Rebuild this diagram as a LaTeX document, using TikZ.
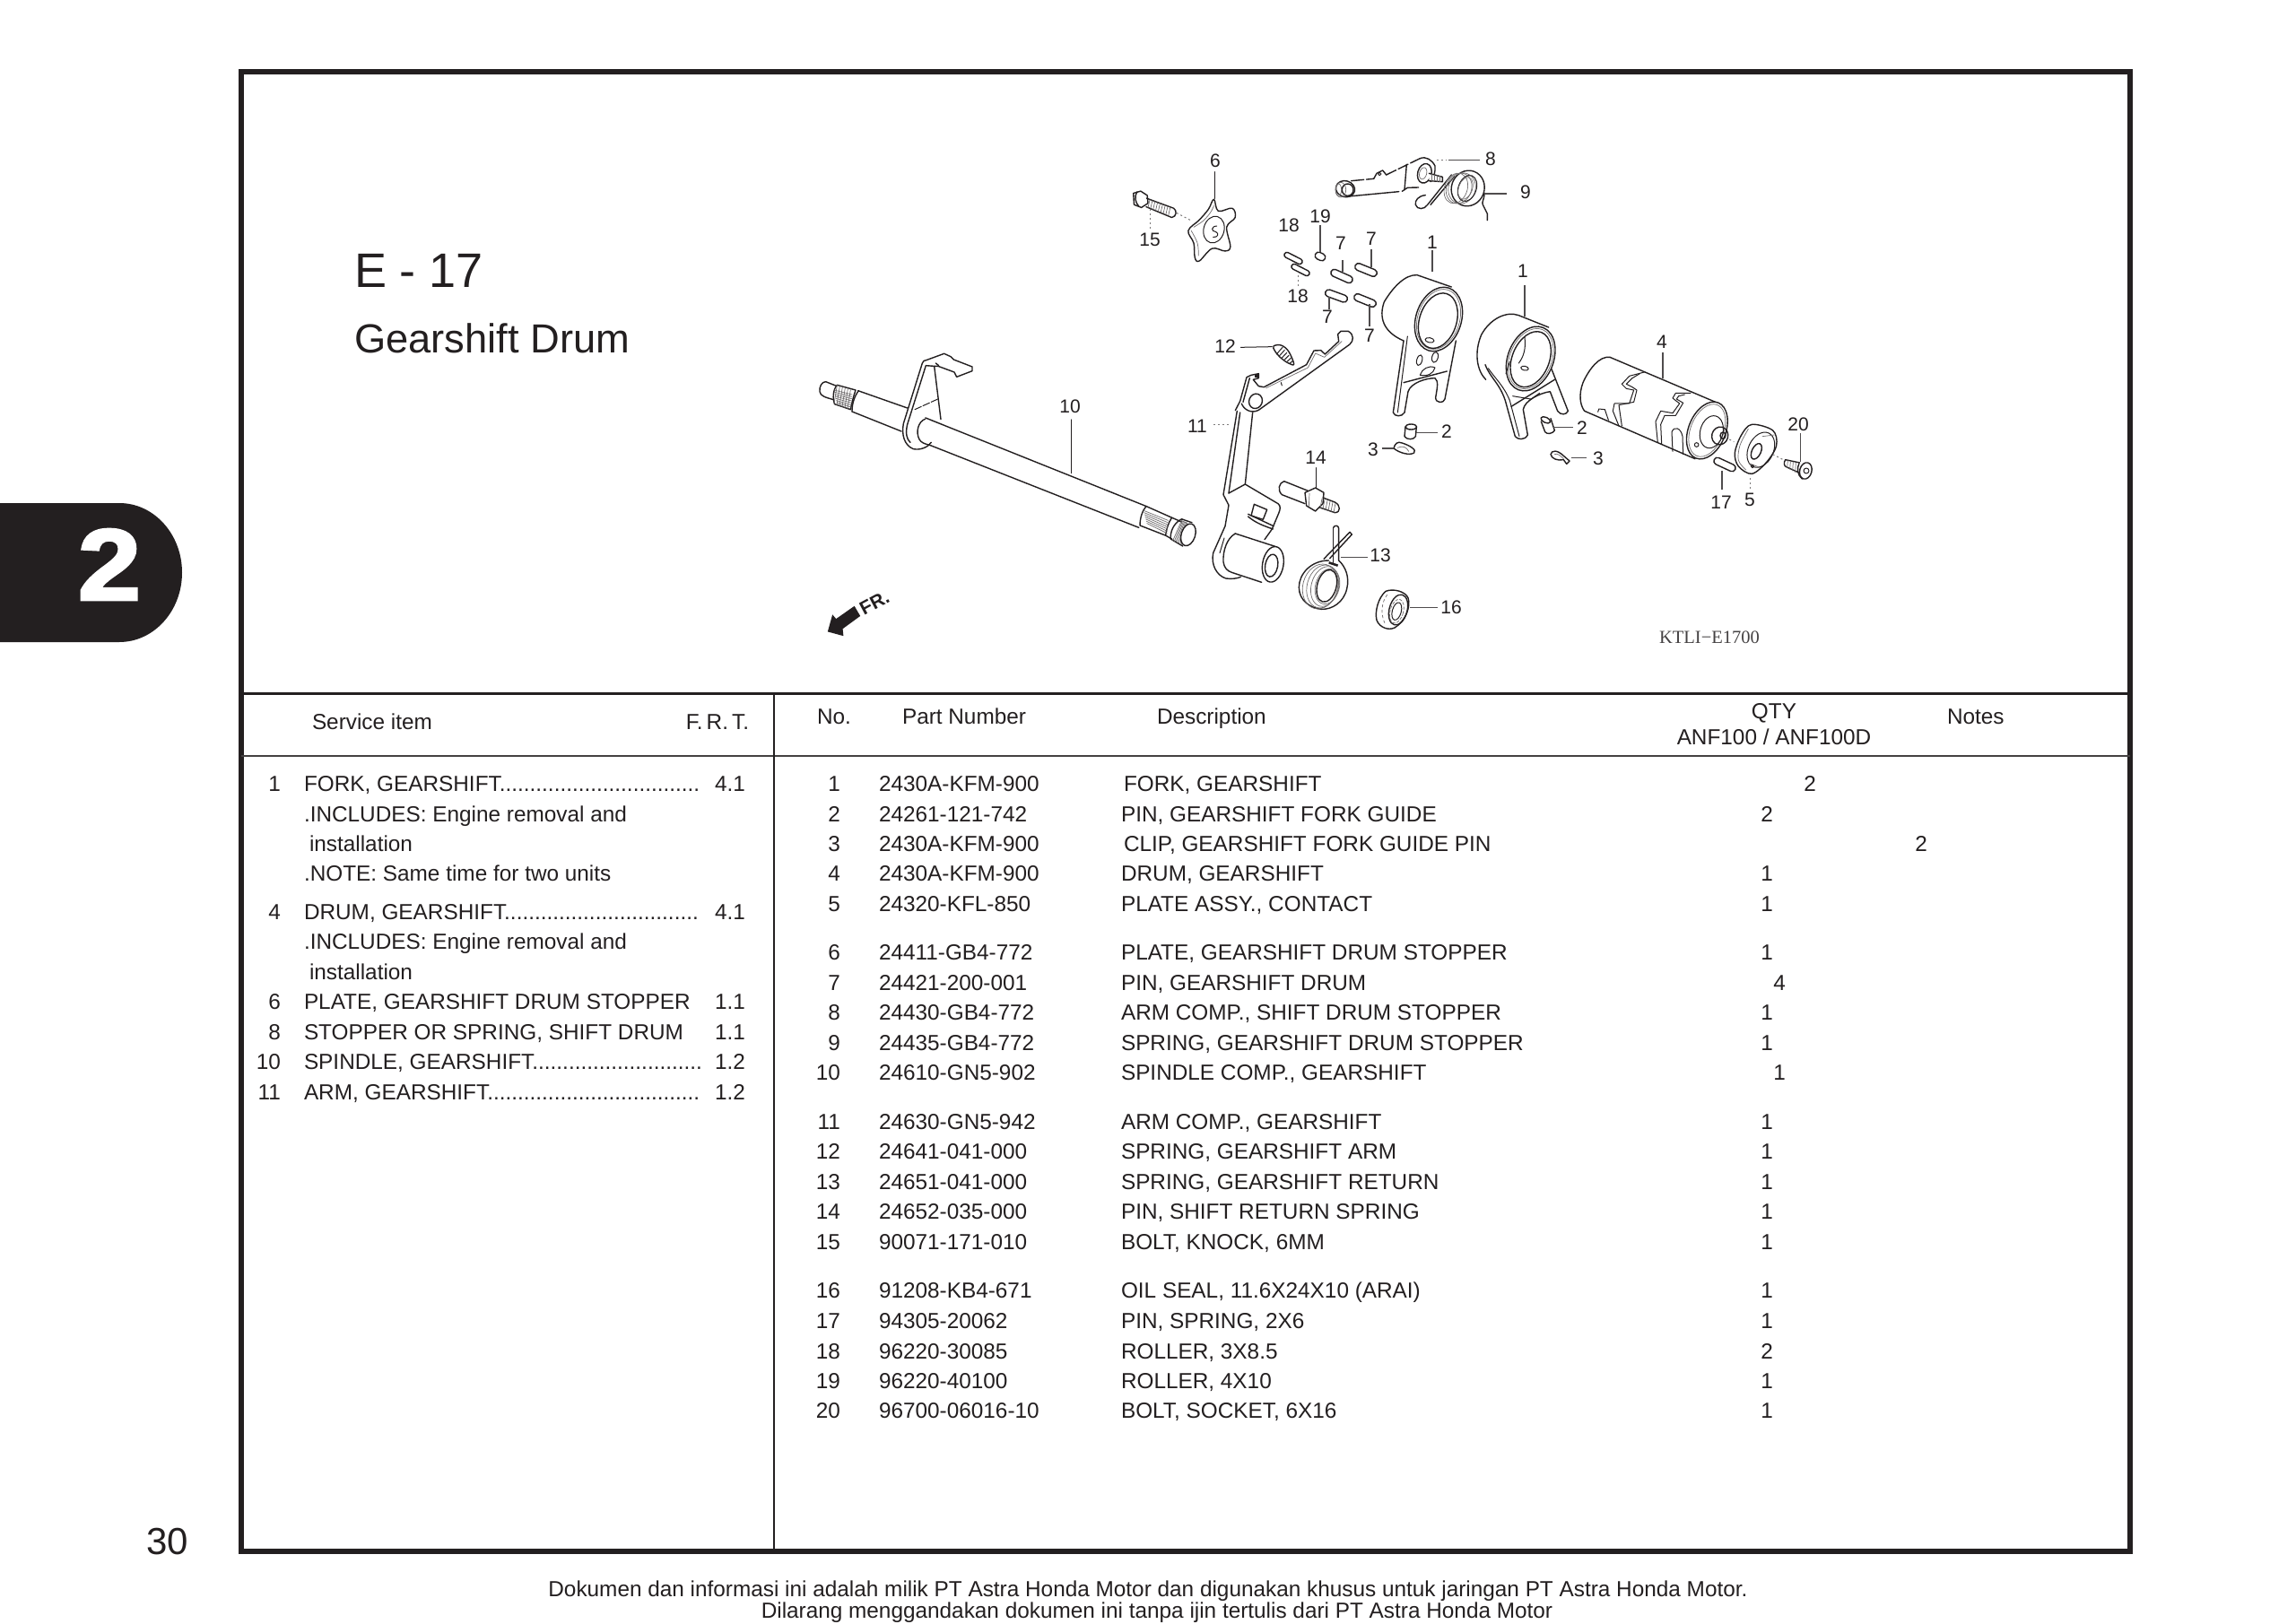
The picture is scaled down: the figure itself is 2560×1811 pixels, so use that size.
\documentclass[tikz,border=0pt]{standalone}
\usepackage{fontspec}
\setmainfont{Liberation Sans}
\newfontfamily\serifkt{Liberation Serif}
\newfontfamily\tabfont[BoldFeatures={FakeBold=2.5}]{Liberation Sans}
\definecolor{inkc}{HTML}{231F20}
\newcounter{tn}
\tikzset{
  txt/.style={inner sep=0pt,outer sep=0pt,text=inkc,font=\fontsize{24.35pt}{24pt}\selectfont},
  plab/.style={inner sep=0pt,outer sep=0pt,text=inkc,font=\fontsize{21pt}{21pt}\selectfont},
  ink/.style={draw=inkc,line width=1.4pt,line join=round,line cap=round},
  fine/.style={draw=inkc,line width=1pt,line join=round,line cap=round},
  hatchl/.style={draw=inkc!65,line width=.7pt,line cap=round},
  lead/.style={draw=inkc!80,line width=1.2pt},
  dots/.style={draw=inkc!60,line width=1pt,dash pattern=on 2pt off 3pt},
  rule/.style={draw=inkc,line cap=butt},
  z5/.style={shift={(1480,160)},x=0.33333pt,y=-0.33333pt},
  z6/.style={shift={(1530,290)},x=0.33333pt,y=-0.33333pt},
  z7/.style={shift={(1750,370)},x=0.33333pt,y=-0.33333pt},
  z8/.style={shift={(1340,360)},x=0.33333pt,y=-0.33333pt},
  z9/.style={shift={(1420,560)},x=0.33333pt,y=-0.33333pt},
  z10/.style={shift={(900,385)},x=0.33333pt,y=-0.33333pt},
  z1/.style={shift={(880,140)},x=0.40816pt,y=-0.39747pt},
}
\newcommand\Tw[3]{\stepcounter{tn}\node[txt,anchor=base west] (t\arabic{tn}) at (#1,#2) {#3};}
\newcommand\Te[3]{\stepcounter{tn}\node[txt,anchor=base east] (t\arabic{tn}) at (#1,#2) {#3};}
\newcommand\Tc[3]{\stepcounter{tn}\node[txt,anchor=base] (t\arabic{tn}) at (#1,#2) {#3};}
\newcommand\Pn[3]{\stepcounter{tn}\node[plab] (t\arabic{tn}) at (#1,#2) {#3};}
\newcommand\Rw[7]{\Te{937}{#1}{#2}\Tw{980}{#1}{#3}\Tw{#4}{#1}{#5}\Tc{#6}{#1}{#7}}
\newcommand\PinC[5]{\draw[ink,fill=white,shift={(#1,#2)},rotate=#5,rounded corners=#4pt] (-#3,-#4) rectangle (#3,#4);}
\begin{document}
\begin{tikzpicture}[x=1pt,y=-1pt]
\useasboundingbox (0,0) rectangle (2560,1811);
\fill[white] (0,0) rectangle (2560,1811);
% tab
\fill[inkc] (0,561) -- (133,561) .. controls (171.7,561) and (203,595.7) .. (203,638.5) .. controls (203,681.3) and (171.7,716) .. (133,716) -- (0,716) -- cycle;
\node[inner sep=0pt,text=white,font=\tabfont\fontsize{113pt}{113pt}\selectfont\bfseries,anchor=base] (tabnum) at (122,669) {\scalebox{1.12}[1]{2}};
% frame
\draw[rule,line width=6pt] (268.5,80) rectangle (2375,1730);
\draw[rule,line width=3pt] (269,773) -- (2375,773);
\draw[rule,line width=2pt,draw=inkc!85] (269,843) -- (2375,843);
\draw[rule,line width=2pt] (863,773) -- (863,1730);
% titles
\node[txt,font=\fontsize{54pt}{54pt}\selectfont,anchor=base west] (title) at (395,320) {E - 17};
\node[txt,font=\fontsize{45.3pt}{45pt}\selectfont,anchor=base west] (subtitle) at (395,393) {Gearshift Drum};
\node[txt,font=\fontsize{42pt}{42pt}\selectfont,anchor=base west] (pageno) at (163,1733) {30};
\Tc{1280}{1780}{Dokumen dan informasi ini adalah milik PT Astra Honda Motor dan digunakan khusus untuk jaringan PT Astra Honda Motor.}
\Tc{1290}{1804}{Dilarang menggandakan dokumen ini tanpa ijin tertulis dari PT Astra Honda Motor}
% left table
\Tw{348}{813}{Service item}
\Te{835}{813}{F.\kern4pt R.\kern4pt T.}
\Te{313}{882}{1}\Tw{339}{882}{FORK, GEARSHIFT.................................}\Te{831}{882}{4.1}
\Tw{339}{916}{.INCLUDES: Engine removal and}
\Tw{345}{949}{installation}
\Tw{339}{982}{.NOTE: Same time for two units}
\Te{313}{1025}{4}\Tw{339}{1025}{DRUM, GEARSHIFT................................}\Te{831}{1025}{4.1}
\Tw{339}{1058}{.INCLUDES: Engine removal and}
\Tw{345}{1092}{installation}
\Te{313}{1125}{6}\Tw{339}{1125}{PLATE, GEARSHIFT DRUM STOPPER}\Te{831}{1125}{1.1}
\Te{313}{1159}{8}\Tw{339}{1159}{STOPPER OR SPRING, SHIFT DRUM}\Te{831}{1159}{1.1}
\Te{313}{1192}{10}\Tw{339}{1192}{SPINDLE, GEARSHIFT............................}\Te{831}{1192}{1.2}
\Te{313}{1226}{11}\Tw{339}{1226}{ARM, GEARSHIFT...................................}\Te{831}{1226}{1.2}
% right table header
\Tw{911}{807}{No.}
\Tw{1006}{807}{Part Number}
\Tw{1290}{807}{Description}
\Tc{1978}{801}{QTY}
\Tc{1978}{830}{ANF100 / ANF100D}
\Tw{2171}{807}{Notes}
% right table rows
\Rw{882}{1}{2430A-KFM-900}{1253}{FORK, GEARSHIFT}{2018}{2}
\Rw{916}{2}{24261-121-742}{1250}{PIN, GEARSHIFT FORK GUIDE}{1970}{2}
\Rw{949}{3}{2430A-KFM-900}{1253}{CLIP, GEARSHIFT FORK GUIDE PIN}{2142}{2}
\Rw{982}{4}{2430A-KFM-900}{1250}{DRUM, GEARSHIFT}{1970}{1}
\Rw{1016}{5}{24320-KFL-850}{1250}{PLATE ASSY., CONTACT}{1970}{1}
\Rw{1070}{6}{24411-GB4-772}{1250}{PLATE, GEARSHIFT DRUM STOPPER}{1970}{1}
\Rw{1104}{7}{24421-200-001}{1250}{PIN, GEARSHIFT DRUM}{1984}{4}
\Rw{1137}{8}{24430-GB4-772}{1250}{ARM COMP., SHIFT DRUM STOPPER}{1970}{1}
\Rw{1171}{9}{24435-GB4-772}{1250}{SPRING, GEARSHIFT DRUM STOPPER}{1970}{1}
\Rw{1204}{10}{24610-GN5-902}{1250}{SPINDLE COMP., GEARSHIFT}{1984}{1}
\Rw{1259}{11}{24630-GN5-942}{1250}{ARM COMP., GEARSHIFT}{1970}{1}
\Rw{1292}{12}{24641-041-000}{1250}{SPRING, GEARSHIFT ARM}{1970}{1}
\Rw{1326}{13}{24651-041-000}{1250}{SPRING, GEARSHIFT RETURN}{1970}{1}
\Rw{1359}{14}{24652-035-000}{1250}{PIN, SHIFT RETURN SPRING}{1970}{1}
\Rw{1393}{15}{90071-171-010}{1250}{BOLT, KNOCK, 6MM}{1970}{1}
\Rw{1447}{16}{91208-KB4-671}{1250}{OIL SEAL, 11.6X24X10 (ARAI)}{1970}{1}
\Rw{1481}{17}{94305-20062}{1250}{PIN, SPRING, 2X6}{1970}{1}
\Rw{1515}{18}{96220-30085}{1250}{ROLLER, 3X8.5}{1970}{2}
\Rw{1548}{19}{96220-40100}{1250}{ROLLER, 4X10}{1970}{1}
\Rw{1581}{20}{96700-06016-10}{1250}{BOLT, SOCKET, 6X16}{1970}{1}
% part labels
\Pn{1355}{179}{6}\Pn{1662}{177}{8}\Pn{1701}{214}{9}\Pn{1282}{267}{15}
\Pn{1437}{251}{18}\Pn{1472}{241}{19}\Pn{1495}{271}{7}\Pn{1529}{266}{7}
\Pn{1447}{330}{18}\Pn{1480}{353}{7}\Pn{1527}{374}{7}
\Pn{1597}{270}{1}\Pn{1698}{302}{1}\Pn{1853}{381}{4}
\Pn{1613}{481}{2}\Pn{1764}{477}{2}\Pn{1531}{501}{3}\Pn{1782}{511}{3}
\Pn{2005}{473}{20}\Pn{1919}{560}{17}\Pn{1951}{557}{5}
\Pn{1366}{386}{12}\Pn{1335}{475}{11}\Pn{1467}{510}{14}\Pn{1539}{619}{13}\Pn{1618}{677}{16}\Pn{1193}{453}{10}
\node[inner sep=0pt,text=inkc!85,font=\serifkt\fontsize{20.5pt}{20pt}\selectfont] (code) at (1906,711) {KTLI−E1700};
\node[inner sep=0pt,text=inkc,rotate=28,font=\fontsize{21pt}{21pt}\selectfont\bfseries] (fr) at (975,672) {FR.};
% FR arrow
\begin{scope}[z1]
\fill[inkc] (105,1420) -- (118,1372) -- (128,1384) -- (178,1348) -- (194,1376) -- (146,1412) -- (148,1432) -- cycle;
\end{scope}
% spindle, left end
\begin{scope}[z10]
\draw[ink] (95,135) -- (62,122) .. controls (48,122) and (40,140) .. (42,155) .. controls (44,170) and (60,174) .. (88,182);
\draw[ink] (100,133) .. controls (85,150) and (85,180) .. (92,197) -- (145,215) .. controls (150,190) and (155,170) .. (162,150) -- cycle;
\foreach \i in {0,...,5}{\draw[hatchl] (100+\i*9,134+\i*3) -- (90+\i*9,196+\i*3.3);}
\foreach \i in {0,...,6}{\draw[hatchl] (90+\i*1.5,150+\i*7) -- (150-\i*.5,165+\i*7);}
\draw[ink] (170,152) -- (335,210);
\draw[ink] (150,222) -- (315,288);
\draw[ink] (172,152) .. controls (155,175) and (150,200) .. (150,222);
% bracket
\draw[ink] (385,60) -- (322,262) .. controls (315,300) and (325,335) .. (355,347) .. controls (380,352) and (405,340) .. (415,325);
\draw[ink] (397,68) -- (335,265) .. controls (328,295) and (333,315) .. (345,325);
\draw[ink] (385,60) .. controls (388,52) and (392,50) .. (398,50) -- (458,28) -- (480,38) -- (490,48) -- (552,72) -- (552,86) -- (500,106) -- (492,90) -- (438,70) -- (425,70) -- (397,68);
\draw[ink] (425,70) -- (447,248);
\draw[ink] (430,60) -- (440,68);
\draw[fine,dash pattern=on 8pt off 2pt] (360,215) -- (437,180);
\end{scope}
% spindle main shaft
\begin{scope}[z1]
\draw[ink] (372,823) .. controls (352,830) and (345,860) .. (355,880) .. controls (360,890) and (370,893) .. (385,897);
\draw[ink] (372,820) -- (975,1068);
\draw[ink] (385,897) -- (955,1128);
% splines
\draw[ink] (975,1068) -- (1045,1100) .. controls (1035,1115) and (1030,1135) .. (1028,1150) -- (958,1122) .. controls (958,1100) and (965,1080) .. (975,1068);
\foreach \i in {0,...,6}{\draw[hatchl] (968+\i*1.5,1080+\i*6) -- (1035-\i*.5,1108+\i*6);}
\draw[ink] (1045,1100) -- (1072,1112);
\draw[ink] (1028,1150) -- (1045,1160);
\draw[ink] (1072,1104) -- (1100,1114);
\draw[ink] (1042,1160) -- (1075,1180);
\draw[ink] (1072,1104) .. controls (1050,1115) and (1040,1140) .. (1042,1160);
\foreach \i in {0,...,6}{\draw[hatchl] (1072+\i*2.5,1108+\i*1) -- (1048+\i*4,1164+\i*2);}
\draw[ink,fill=white] (1090,1148) circle[x radius=19,y radius=32,rotate=-18];
\draw[fine] (770,825) -- (770,975);
% bolt 15
\draw[ink,fill=white] (940,190) -- (960,184) -- (978,196) -- (980,218) -- (962,230) -- (942,222) -- cycle;
\draw[ink] (950,186) .. controls (942,200) and (945,215) .. (955,227);
\draw[ink] (976,204) -- (1050,232) .. controls (1060,238) and (1058,256) .. (1045,258) -- (975,228);
\foreach \i in {0,...,8}{\draw[hatchl] (985+\i*7,208+\i*2.6) -- (980+\i*7,230+\i*2.6);}
\draw[dots] (985,235) -- (985,290);
\draw[dots] (1058,245) -- (1095,265);
% plate 6
\draw[ink,fill=white] plot[smooth cycle,tension=.6] coordinates {(1160,207) (1172,240) (1210,232) (1218,258) (1195,285) (1205,340) (1190,352) (1155,345) (1120,380) (1108,370) (1105,330) (1090,295) (1120,265) (1145,235)};
\draw[hatchl] plot[smooth,tension=.6] coordinates {(1098,295) (1115,330) (1118,365)};
\draw[hatchl] plot[smooth,tension=.6] coordinates {(1105,285) (1130,268) (1150,245) (1160,225)};
\draw[fine] (1160,292) circle[x radius=28,y radius=38,rotate=-15];
\draw[fine] (1168,282) .. controls (1152,282) and (1152,298) .. (1165,298) .. controls (1176,303) and (1170,315) .. (1158,313);
\draw[fine] (1163,130) -- (1163,205);
\end{scope}
% arm 11
\begin{scope}[z8]
\draw[ink] (190,292) -- (495,72) .. controls (508,60) and (510,40) .. (490,28) -- (465,28) -- (455,38) -- (458,62) -- (412,105) -- (398,92) -- (375,93) -- (350,140) -- (208,215) -- (190,212) -- (172,190) -- (190,185) -- (190,170) -- (165,175) -- (150,182) -- (128,262) -- (112,293);
\draw[hatchl] (215,218) -- (355,150) -- (380,102) -- (410,115) -- (468,62);
\draw[fine] (265,200) -- (268,210);
\draw[ink] (160,185) -- (138,265);
\fill[inkc] (178,170) rectangle (190,184);
\draw[ink] (133,270) .. controls (140,290) and (165,305) .. (190,292);
\draw[ink,fill=white] (180,262) circle[x radius=22,y radius=25,rotate=-20];
\draw[ink] (118,295) -- (72,575) -- (90,610) -- (78,680) -- (38,770) .. controls (30,810) and (50,845) .. (80,855) .. controls (100,858) and (120,855) .. (130,850);
\draw[ink] (128,300) -- (90,570);
\draw[ink] (170,300) -- (145,540);
\draw[ink] (90,570) -- (145,540) -- (255,605) .. controls (265,612) and (262,625) .. (258,635) -- (235,690) -- (210,725);
\draw[fine] (60,770) -- (75,720);
\draw[ink] (112,705) .. controls (85,720) and (70,760) .. (72,800) .. controls (75,820) and (85,830) .. (100,835) -- (200,868);
\draw[ink] (112,705) -- (245,748);
\draw[ink,fill=white] (238,808) circle[x radius=35,y radius=60,rotate=-10];
\draw[ink] (233,812) circle[x radius=21,y radius=38,rotate=-10];
\draw[ink,fill=white] (175,607) -- (218,625) -- (205,658) -- (165,645) -- cycle;
\draw[ink] (155,640) -- (240,680);
\draw[ink] (155,648) .. controls (180,670) and (210,680) .. (238,690);
\draw[dots] (40,340) -- (100,340);
% spring 12
\draw[fine] (130,82) -- (235,80);
\draw[ink] plot[smooth cycle,tension=.6] coordinates {(240,78) (265,75) (290,95) (308,138) (290,135) (265,118) (245,95)};
\foreach \i in {0,...,5}{\draw[fine] (250+\i*9,105+\i*6) -- (270+\i*7,82+\i*9);}
% pin 14
\draw[ink] (275,530) .. controls (258,535) and (252,560) .. (268,575) -- (345,605);
\draw[ink] (275,530) -- (355,562);
\draw[ink,fill=white] (345,568) -- (380,552) -- (408,568) -- (405,605) -- (380,630) -- (350,612) -- cycle;
\draw[hatchl] (360,570) -- (358,615);
\draw[ink] (405,585) -- (445,600) .. controls (465,610) and (465,635) .. (445,635) -- (395,618);
\foreach \i in {0,...,5}{\draw[hatchl] (402+\i*9,588+\i*3) -- (396+\i*9,620+\i*3);}
\draw[fine] (383,485) -- (383,552);
\end{scope}
% spring 13, seal 16
\begin{scope}[z9]
\draw[ink] (168,190) -- (255,100) -- (262,108) -- (188,188);
\draw[ink] (85,285) .. controls (85,240) and (125,195) .. (185,195);
\draw[ink] (200,85) .. controls (205,75) and (218,78) .. (218,88) -- (218,195) .. controls (240,215) and (255,250) .. (245,290) .. controls (235,335) and (195,360) .. (160,358) .. controls (125,355) and (85,330) .. (85,285);
\draw[ink] (200,85) -- (200,205);
\foreach \rx/\ry/\cx in {40/60/180,46/68/172,52/73/164,58/76/156}{\draw[hatchl] (\cx,282) circle[x radius=\rx,y radius=\ry,rotate=-15];}
\draw[ink] (178,280) circle[x radius=32,y radius=55,rotate=-15];
\draw[line width=2.5pt,draw=inkc] (185,202) -- (215,212);
\draw[lead] (225,185) -- (315,185);
\draw[ink] (375,298) .. controls (350,320) and (338,365) .. (345,395) .. controls (355,420) and (385,430) .. (405,420) .. controls (440,400) and (460,350) .. (450,320) .. controls (440,298) and (400,288) .. (375,298);
\draw[hatchl,dash pattern=on 3pt off 3pt] (380,310) .. controls (360,335) and (358,375) .. (372,405);
\draw[ink] (417,360) circle[x radius=30,y radius=52,rotate=-15];
\draw[fine] (412,365) circle[x radius=15,y radius=30,rotate=-15];
\draw[hatchl,dash pattern=on 3pt off 2pt] (412,365) circle[x radius=22,y radius=41,rotate=-15];
\draw[lead] (455,352) -- (548,352);
\end{scope}
% stopper arm 8, spring 9
\begin{scope}[z5]
\draw[ink] (60,152) circle[x radius=32,y radius=27,rotate=-15];
\draw[ink] (68,155) circle[x radius=19,y radius=20];
\draw[hatchl] (45,155) circle[x radius=17,y radius=25];
\draw[hatchl] (37,155) circle[x radius=10,y radius=20];
\draw[ink,dash pattern=on 14pt off 3pt] (80,125) -- (155,118);
\draw[ink] (155,118) -- (165,100) -- (185,90) -- (197,105);
\draw[ink,dash pattern=on 12pt off 3pt] (197,105) -- (310,50);
\draw[fine] (175,102) circle[radius=5];
\draw[ink,dash pattern=on 60pt off 4pt] (60,178) -- (250,160);
\draw[ink] (250,160) -- (268,148) -- (305,147);
\draw[ink] (265,70) -- (258,155);
\draw[ink] (310,50) .. controls (330,42) and (350,55) .. (360,75) .. controls (362,95) and (355,120) .. (345,128);
\draw[ink,fill=white] (325,100) circle[x radius=23,y radius=33,rotate=-15];
\draw[hatchl] (320,100) circle[x radius=12,y radius=20,rotate=-15];
\draw[ink,fill=white] (340,100) -- (385,112) -- (385,128) -- (340,125);
\foreach \i in {0,...,3}{\draw[hatchl] (350+\i*9,103+\i*2) -- (350+\i*9,125+\i*1);}
\draw[dots] (365,55) -- (400,55);
\draw[lead] (405,55) -- (510,55);
% spring
\draw[ink] (415,105) -- (335,205) .. controls (325,222) and (300,222) .. (295,205) .. controls (292,190) and (305,175) .. (328,173);
\draw[ink] (425,110) -- (345,205);
\draw[ink,fill=white] (470,150) circle[x radius=55,y radius=60,rotate=-20];
\foreach \cx/\rx in {450/45,440/42,430/38}{\draw[hatchl] (\cx,150) circle[x radius=\rx,y radius=52,rotate=-20];}
\draw[fine] (468,150) circle[x radius=30,y radius=45,rotate=-20];
\draw[hatchl] (462,150) circle[x radius=23,y radius=38,rotate=-20];
\draw[ink] (525,165) .. controls (525,190) and (515,195) .. (520,205) -- (535,235) -- (535,257);
\draw[lead] (535,168) -- (600,168);
\end{scope}
\draw[lead] (1680,216) -- (1655,216);
% pins
\PinC{1442}{288}{11}{3}{-27}
\PinC{1450}{301}{11}{3}{-27}
\PinC{1472}{286}{6}{4}{-25}
\PinC{1496}{308}{13}{4}{-24}
\PinC{1523}{301}{13}{4}{-22}
\PinC{1490}{330}{13}{4}{-20}
\PinC{1522}{335}{13}{4}{-22}
\PinC{1923}{518}{13}{4}{-25}
\draw[lead] (1472,251) -- (1472,281);
\draw[lead] (1497,290) -- (1497,303);
\draw[lead] (1529,278) -- (1529,298);
\draw[dots] (1447,307) -- (1447,321);
\draw[lead] (1482,331) -- (1482,345);
\draw[lead] (1527,339) -- (1527,364);
\draw[lead] (1597,279) -- (1597,303);
% forks
\begin{scope}[z6]
% fork 1
\draw[ink] (265,90) -- (150,50) .. controls (110,48) and (70,90) .. (40,140) .. controls (22,190) and (35,240) .. (105,270);
\draw[ink] (105,270) -- (70,510) .. controls (75,525) and (100,525) .. (108,510) -- (120,440) .. controls (130,410) and (180,395) .. (210,395) .. controls (222,405) and (218,425) .. (212,460) .. controls (212,480) and (240,480) .. (243,465) -- (280,270);
\draw[fine] (118,255) -- (85,510);
\draw[ink,fill=white] (222,198) circle[x radius=76,y radius=110,rotate=-18];
\draw[hatchl] (222,198) circle[x radius=70,y radius=103,rotate=-18];
\draw[ink] (220,203) circle[x radius=62,y radius=95,rotate=-18];
\draw[fine] (192,268) circle[x radius=15,y radius=8,rotate=-10];
\draw[ink] (105,410) -- (250,372);
\draw[fine] (158,335) circle[x radius=9,y radius=18,rotate=-15];
\draw[fine] (210,325) circle[x radius=10,y radius=18,rotate=-15];
\draw[fine] (160,385) .. controls (165,365) and (190,350) .. (210,360) .. controls (205,380) and (185,390) .. (160,385);
\draw[lead] (201,0) -- (201,38);
% fork 2
\draw[ink] (590,225) -- (490,185) .. controls (450,170) and (395,195) .. (365,250) .. controls (340,310) and (350,370) .. (380,400);
\draw[ink] (378,350) .. controls (395,395) and (425,410) .. (445,470) -- (478,590) .. controls (485,600) and (510,605) .. (520,585) -- (505,500) .. controls (510,470) and (560,445) .. (595,440) -- (620,505) .. controls (630,520) and (650,518) .. (655,505) -- (600,365);
\draw[fine] (388,362) .. controls (410,395) and (440,420) .. (460,470) -- (492,590);
\draw[ink,fill=white] (530,330) circle[x radius=76,y radius=112,rotate=-22];
\draw[hatchl] (530,330) circle[x radius=70,y radius=105,rotate=-22];
\draw[ink] (530,332) circle[x radius=62,y radius=97,rotate=-22];
\draw[fine] (510,362) circle[x radius=13,y radius=7,rotate=-10];
\draw[fine] (510,258) .. controls (515,300) and (505,325) .. (490,345);
\draw[fine] (460,340) -- (447,380);
\draw[ink] (465,490) -- (610,400);
\draw[fine] (470,455) -- (530,465);
\draw[fine] (525,470) -- (560,445);
\draw[lead] (510,85) -- (510,190);
% pin 2 left
\draw[ink] (111,558) -- (108,590) .. controls (115,602) and (140,602) .. (145,590) -- (148,558);
\draw[ink,fill=white] (130,558) circle[x radius=19,y radius=9];
\draw[lead] (148,577) -- (218,577);
% clip 3 left
\draw[ink] (72,630) .. controls (75,615) and (85,605) .. (100,612) .. controls (125,620) and (150,635) .. (140,645) .. controls (125,655) and (90,645) .. (72,630);
\draw[hatchl] (85,628) .. controls (100,620) and (115,625) .. (122,640);
\draw[lead] (32,630) -- (72,630);
% pin 2 right
\draw[ink] (565,540) -- (578,575) .. controls (585,585) and (605,580) .. (610,570) -- (597,530);
\draw[ink,fill=white] (580,535) circle[x radius=17,y radius=9,rotate=-25];
\draw[lead] (607,560) -- (672,560);
% clip 3 right
\draw[ink] (597,650) .. controls (600,635) and (620,635) .. (640,655) -- (660,672) -- (650,682) -- (640,668) .. controls (620,672) and (600,665) .. (597,650);
\draw[hatchl] (610,650) .. controls (620,645) and (630,655) .. (640,665);
\draw[lead] (665,662) -- (718,662);
\end{scope}
% drum
\begin{scope}[z7]
\draw[ink] (135,85) -- (495,238);
\draw[ink] (50,265) -- (420,425);
\draw[ink] (135,85) .. controls (100,80) and (65,125) .. (45,170) .. controls (30,210) and (35,245) .. (50,265);
\draw[ink,fill=white] (460,330) circle[x radius=62,y radius=100,rotate=-22];
\draw[hatchl] (460,330) circle[x radius=55,y radius=92,rotate=-22];
\draw[fine] (475,335) circle[x radius=38,y radius=55,rotate=-15];
\draw[ink] (503,348) circle[x radius=27,y radius=30,rotate=-15];
\draw[ink] (513,347) circle[x radius=9,y radius=11];
\draw[fine] (425,378) circle[radius=7];
\draw[fine] (250,135) -- (200,148) -- (175,175) -- (190,190) -- (215,195) -- (200,240) -- (150,240) -- (145,265) -- (165,315);
\draw[fine] (235,140) -- (210,155) -- (190,175) -- (210,185) -- (225,195) -- (215,235) -- (165,245) -- (175,315);
\draw[fine] (95,268) -- (98,258) -- (118,260) -- (130,295);
\draw[fine] (405,205) -- (355,205) -- (345,222) -- (368,240) -- (345,272) -- (305,265) -- (288,300) -- (295,370);
\draw[fine] (385,210) -- (365,215) -- (358,225) -- (380,238) -- (355,280) -- (318,280) -- (305,310) -- (308,375);
\draw[fine] (345,400) -- (342,335) .. controls (350,315) and (372,320) .. (378,350) -- (380,410);
\draw[lead] (312,70) -- (312,155);
\draw[dots] (535,360) -- (550,368);
% plate 5
\draw[ink,fill=white] plot[smooth cycle,tension=.55] coordinates {(610,310) (680,330) (692,380) (660,435) (610,475) (565,450) (553,405) (575,345)};
\draw[hatchl] plot[smooth,tension=.55] coordinates {(598,325) (570,380) (565,430) (590,462)};
\draw[fine] (640,395) circle[x radius=42,y radius=62,rotate=-25];
\draw[ink] (625,400) circle[x radius=15,y radius=28,rotate=-25];
\draw[hatchl] (600,440) -- (640,455);
\draw[hatchl] (645,350) -- (685,345);
\draw[fine] (612,450) circle[radius=5];
\draw[dots] (605,490) -- (605,530);
\draw[dots] (680,410) -- (715,428);
% bolt 20
\draw[ink] (722,428) -- (770,438);
\draw[ink] (722,428) .. controls (715,438) and (718,450) .. (725,452) -- (765,470);
\foreach \i in {0,...,3}{\draw[hatchl] (730+\i*9,430+\i*3) -- (728+\i*9,455+\i*5);}
\draw[ink,fill=white] (790,465) circle[x radius=20,y radius=28,rotate=-15];
\draw[ink] (768,440) .. controls (760,455) and (762,480) .. (778,492);
\draw[fine] (792,465) circle[radius=9];
\draw[lead] (772,340) -- (772,435);
\draw[lead] (510,465) -- (510,528);
\end{scope}
\end{tikzpicture}
\end{document}
